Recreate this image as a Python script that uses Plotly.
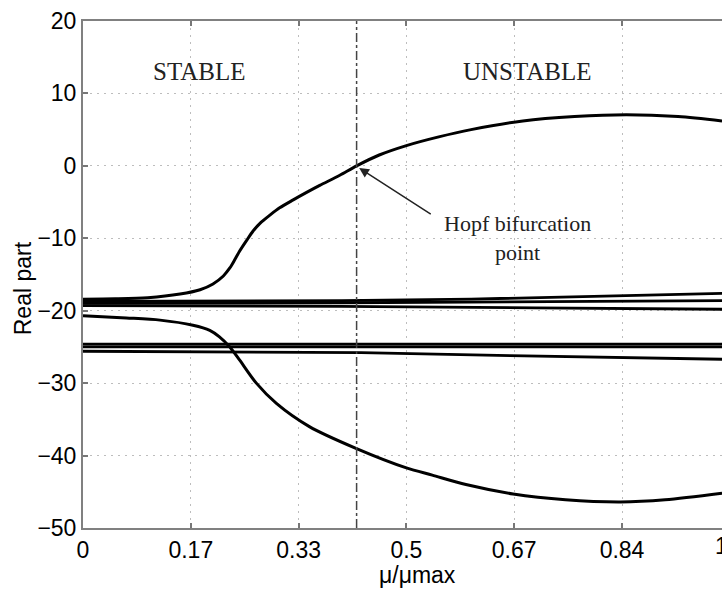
import plotly.graph_objects as go

# ---- data ----
xA = [0, 0.05, 0.10, 0.150, 0.181, 0.201, 0.217, 0.227, 0.235, 0.242, 0.253, 0.263, 0.274,
      0.289, 0.304, 0.325, 0.345, 0.366, 0.397, 0.423, 0.458, 0.50, 0.55, 0.60, 0.68,
      0.76, 0.84, 0.92, 0.988]
yA = [-18.4, -18.35, -18.2, -17.7, -17.1, -16.3, -15.2, -14.1, -12.9, -11.8, -10.3, -9.0, -7.9,
      -6.8, -5.8, -4.7, -3.7, -2.7, -1.3, 0.0, 1.5, 2.8, 4.0, 5.0, 6.2,
      6.8, 7.05, 6.8, 6.2]

xC = [0, 0.067, 0.119, 0.170, 0.196, 0.211, 0.227, 0.242, 0.268, 0.299, 0.350, 0.422,
      0.50, 0.54, 0.592, 0.665, 0.746, 0.831, 0.90, 0.988]
yC = [-20.7, -21.0, -21.3, -22.0, -22.7, -23.6, -25.0, -26.8, -30.0, -32.8, -36.0, -39.0,
      -41.7, -42.7, -44.0, -45.3, -46.1, -46.4, -46.1, -45.2]

xB1 = [0, 0.2, 0.4, 0.6, 0.8, 0.988]
yB1 = [-18.7, -18.7, -18.6, -18.4, -18.0, -17.6]
xB2 = [0, 0.4, 0.988]
yB2 = [-19.0, -18.9, -18.6]
xB3 = [0, 0.4, 0.7, 0.988]
yB3 = [-19.3, -19.4, -19.6, -19.8]

xD1 = [0, 0.5, 0.988]
yD1 = [-24.6, -24.6, -24.6]
xD2 = [0, 0.5, 0.988]
yD2 = [-25.0, -25.0, -25.0]
xD3 = [0, 0.2, 0.43, 0.66, 0.988]
yD3 = [-25.6, -25.7, -25.8, -26.2, -26.7]

hopf_x = 0.423
x_tickvals = [0, 1/6, 2/6, 3/6, 4/6, 5/6]
x_ticktext = ["0", "0.17", "0.33", "0.5", "0.67", "0.84"]
y_tickvals = [20, 10, 0, -10, -20, -30, -40, -50]

fig = go.Figure()
for xs, ys in [(xB1, yB1), (xB2, yB2), (xB3, yB3), (xD1, yD1), (xD2, yD2), (xD3, yD3)]:
    fig.add_trace(go.Scatter(x=xs, y=ys, mode="lines", line=dict(color="black", width=2.8),
                             showlegend=False, hoverinfo="skip"))
for xs, ys in [(xA, yA), (xC, yC)]:
    fig.add_trace(go.Scatter(x=xs, y=ys, mode="lines",
                             line=dict(color="black", width=3, shape="spline", smoothing=0.8),
                             showlegend=False, hoverinfo="skip"))

fig.add_shape(type="line", x0=hopf_x, x1=hopf_x, y0=-50, y1=20, xref="x", yref="y",
              line=dict(color="#444", width=1.5, dash="dashdot"))

serif = "Liberation Serif, Times New Roman, serif"
sans = "Liberation Sans, Arial, sans-serif"

pl, pt, pw, ph = 83, 20.5, 722 - 83, 528 - 20.5

fig.add_annotation(x=0.18, y=13.0, xref="x", yref="y", text="STABLE", showarrow=False,
                   font=dict(family=serif, size=25, color="#222"))
fig.add_annotation(x=0.687, y=13.0, xref="x", yref="y", text="UNSTABLE", showarrow=False,
                   font=dict(family=serif, size=25, color="#222"))
fig.add_annotation(x=hopf_x + 0.004, y=-0.3, xref="x", yref="y", ax=0.54, ay=-6.8,
                   axref="x", ayref="y", text="", showarrow=True, arrowhead=2, arrowsize=1.3,
                   arrowwidth=1.5, arrowcolor="#222")
fig.add_annotation(x=0.672, y=-10.0, xref="x", yref="y", text="Hopf bifurcation<br>point",
                   showarrow=False, font=dict(family=serif, size=22, color="#222"))

# axis titles
fig.add_annotation(x=(23 - pl) / pw, y=1 - (288 - pt) / ph, xref="paper", yref="paper",
                   xanchor="center", yanchor="middle", text="Real part", showarrow=False,
                   textangle=-90, font=dict(family=sans, size=23, color="black"))
fig.add_annotation(x=(417 - pl) / pw, y=1 - (575 - pt) / ph, xref="paper", yref="paper",
                   xanchor="center", yanchor="middle", text="μ/μmax", showarrow=False,
                   font=dict(family=sans, size=23, color="black"))
fig.add_annotation(x=1.0, y=-0.005, xref="paper", yref="paper", text="1", showarrow=False,
                   xanchor="left", yanchor="top", xshift=-9,
                   font=dict(family=sans, size=23, color="black"))

grid = dict(showgrid=True, gridcolor="#bdbdbd", griddash="2px,5px", gridwidth=1)
fig.update_xaxes(range=[0, (722 - 83) / 646.8], tickvals=x_tickvals, ticktext=x_ticktext,
                 ticks="inside", ticklen=5, tickcolor="#777", tickwidth=1.5,
                 showline=True, linecolor="#808080", linewidth=2, mirror="allticks",
                 zeroline=False, tickfont=dict(family=sans, size=23, color="black"), **grid)
fig.update_yaxes(range=[-50, 20], tickvals=y_tickvals,
                 ticks="inside", ticklen=5, tickcolor="#777", tickwidth=1.5,
                 showline=True, linecolor="#808080", linewidth=2, mirror=False,
                 zeroline=False, tickfont=dict(family=sans, size=23, color="black"), **grid)

fig.update_layout(width=722, height=592, margin=dict(l=83, r=0, t=20.5, b=64, pad=0),
                  plot_bgcolor="white", paper_bgcolor="white", showlegend=False)

fig.write_html("out.html")
